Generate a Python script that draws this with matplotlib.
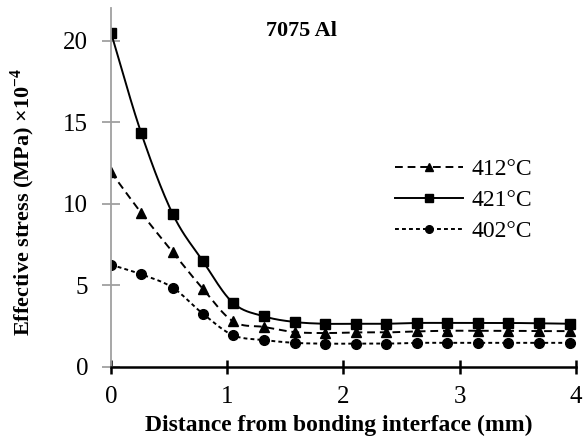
import numpy as np
import matplotlib
matplotlib.use("Agg")
import matplotlib.pyplot as plt

# distance from bonding interface (mm)
x = [0, 0.26, 0.53, 0.79, 1.05, 1.32, 1.58, 1.84, 2.11, 2.37, 2.63, 2.89, 3.16, 3.42, 3.68, 3.95]

# effective stress (MPa) x10^-4
s412 = [11.95, 9.45, 7.05, 4.8, 2.8, 2.45, 2.14, 2.08, 2.12, 2.12, 2.18, 2.22, 2.22, 2.22, 2.2, 2.2]
s421 = [20.5, 14.35, 9.4, 6.5, 3.93, 3.1, 2.76, 2.65, 2.65, 2.65, 2.7, 2.7, 2.7, 2.7, 2.68, 2.65]
s402 = [6.27, 5.68, 4.87, 3.27, 1.95, 1.65, 1.48, 1.43, 1.43, 1.43, 1.48, 1.48, 1.48, 1.48, 1.48, 1.48]

labels = ["412°C", "421°C", "402°C"]


def smooth(xs, ys, n=20):
    # catmull-rom curve through the points, like excel's smoothed line
    xs = np.asarray(xs, float)
    ys = np.asarray(ys, float)
    px = np.concatenate([[2 * xs[0] - xs[1]], xs, [2 * xs[-1] - xs[-2]]])
    py = np.concatenate([[2 * ys[0] - ys[1]], ys, [2 * ys[-1] - ys[-2]]])
    ox, oy = [], []
    t = np.linspace(0, 1, n, endpoint=False)
    for i in range(1, len(px) - 2):
        for p, o in ((px, ox), (py, oy)):
            p0, p1, p2, p3 = p[i - 1], p[i], p[i + 1], p[i + 2]
            o.extend(0.5 * ((2 * p1) + (-p0 + p2) * t + (2 * p0 - 5 * p1 + 4 * p2 - p3) * t ** 2
                            + (-p0 + 3 * p1 - 3 * p2 + p3) * t ** 3))
    ox.append(xs[-1])
    oy.append(ys[-1])
    return ox, oy


plt.rcParams['font.family'] = ['Liberation Serif', 'DejaVu Serif']
plt.rcParams['mathtext.fontset'] = 'custom'
plt.rcParams['mathtext.rm'] = 'Liberation Serif'
plt.rcParams['mathtext.bf'] = 'Liberation Serif:bold'

fig = plt.figure(figsize=(5.84, 4.43), dpi=100)
ax = fig.add_axes([0.19, 0.1716, 0.796, 0.81])

styles = [
    (s412, (0, (4, 2.5)), '^'),
    (s421, '-', 's'),
    (s402, (0, (2, 1.6)), 'o'),
]
handles = []
for (ys, ls, mk), lab in zip(styles, labels):
    sx, sy = smooth(x, ys)
    ax.plot(sx, sy, color='black', linestyle=ls, linewidth=1.4)
    ax.plot(x, ys, linestyle='none', marker=mk, color='black', markersize=7)
    h, = ax.plot([], [], color='black', linestyle=ls, linewidth=1.4, marker=mk, markersize=5.5)
    h.set_label(lab)
    handles.append(h)

ax.set_xlim(0, 4)
ax.set_ylim(0, 22)
ax.set_xticks([0, 1, 2, 3, 4])
ax.set_yticks([0, 5, 10, 15, 20])
ax.spines['top'].set_visible(False)
ax.spines['right'].set_visible(False)
ax.spines['left'].set_color('#a0a0a0')
ax.spines['left'].set_linewidth(1.3)
ax.spines['bottom'].set_linewidth(1.8)
ax.tick_params(axis='y', direction='inout', length=13, width=1.3, color='#a0a0a0', labelsize=18, pad=10)
ax.tick_params(axis='x', direction='inout', length=10, width=1.8, color='black', labelsize=18, pad=9)

ax.set_xlabel('Distance from bonding interface (mm)', fontsize=17, fontweight='bold')
ax.xaxis.set_label_coords(0.49, -0.134)
ax.set_ylabel('Effective stress (MPa) ×10$^{\\mathbf{-4}}$', fontsize=16, fontweight='bold')
ax.yaxis.set_label_coords(-0.16, 0.46)
ax.text(1.33, 20.6, '7075 Al', fontsize=16, fontweight='bold', ha='left', va='center')

ax.legend(handles=handles, loc='upper left', bbox_to_anchor=(0.611, 0.58), frameon=False,
          fontsize=17, handlelength=2.9, handletextpad=0.34, labelspacing=0.4,
          borderpad=0, borderaxespad=0)

fig.savefig('out.png', dpi=100)
